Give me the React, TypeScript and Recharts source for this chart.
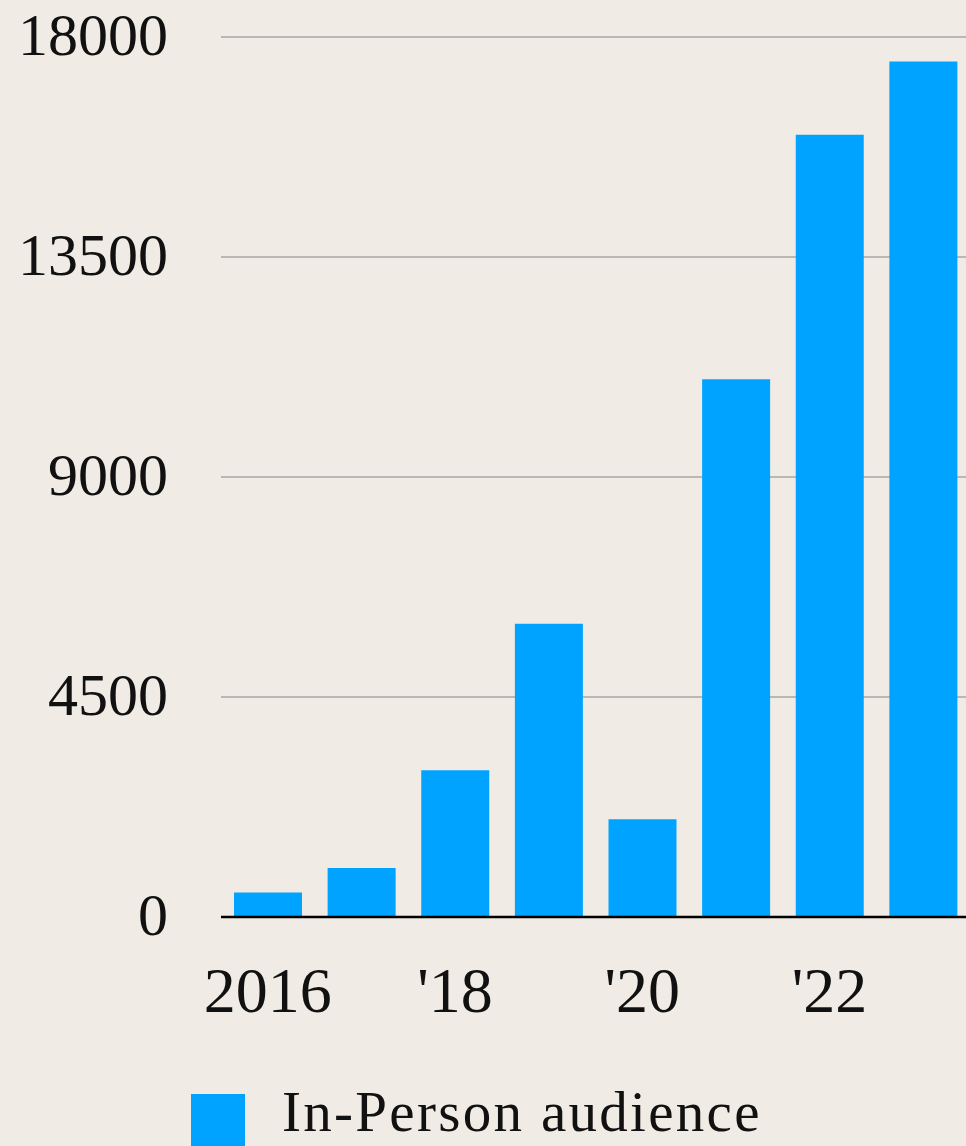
import { Bar, BarChart, CartesianGrid, Legend, XAxis, YAxis } from "recharts";

const years = ["2016", "2017", "2018", "2019", "2020", "2021", "2022", "2023"];
const inPerson = [500, 1000, 3000, 6000, 2000, 11000, 16000, 17500];
const yearLabels = ["2016", "", "'18", "", "'20", "", "'22", ""];
const yTicks = [0, 4500, 9000, 13500, 18000];

const data = years.map((year, i) => ({ year, inPerson: inPerson[i] }));

const FONT = '"Liberation Serif", "Times New Roman", serif';
const BG = "#F0ECE5";
const BLUE = "#00A3FF";

function YTick(props: any) {
  const { x, y, payload } = props;
  return (
    <text x={x} y={y + 18} textAnchor="end" fontFamily={FONT} fontSize={60} fill="#111">
      {payload.value}
    </text>
  );
}

function XTick(props: any) {
  const { x, y, payload, index } = props;
  const label = yearLabels[index] ?? payload.value;
  return (
    <text x={x} y={y + 95} textAnchor="middle" fontFamily={FONT} fontSize={64} fill="#111">
      {label}
    </text>
  );
}

function LegendBox() {
  return (
    <div style={{ position: "relative", height: 52, width: 966 }}>
      <div
        style={{
          position: "absolute",
          left: 191,
          top: 0,
          width: 54,
          height: 52,
          background: BLUE,
        }}
      />
      <span
        style={{
          position: "absolute",
          left: 282,
          top: -7,
          fontFamily: FONT,
          fontSize: 57,
          letterSpacing: 2.3,
          color: "#111",
          whiteSpace: "nowrap",
          lineHeight: "50px",
        }}
      >
        In-Person audience
      </span>
    </div>
  );
}

export default function App() {
  return (
    <div
      style={{
        position: "absolute",
        left: 0,
        top: 0,
        width: 966,
        height: 1146,
        overflow: "hidden",
        background: BG,
      }}
    >
      <BarChart
        width={980}
        height={1146}
        data={data}
        margin={{ top: 37, right: 10, bottom: 0, left: 0 }}
        barCategoryGap={13}
      >
        <CartesianGrid vertical={false} stroke="#BAB8B4" strokeWidth={2} />
        <XAxis
          dataKey="year"
          interval={0}
          height={177}
          tickSize={0}
          tickMargin={0}
          axisLine={{ stroke: "#000", strokeWidth: 2.5 }}
          tickLine={false}
          tick={<XTick />}
        />
        <YAxis
          domain={[0, 18000]}
          ticks={yTicks}
          width={221}
          tickSize={0}
          tickMargin={53}
          axisLine={false}
          tickLine={false}
          tick={<YTick />}
        />
        <Legend verticalAlign="bottom" align="left" content={<LegendBox />} />
        <Bar dataKey="inPerson" fill={BLUE} isAnimationActive={false} />
      </BarChart>
    </div>
  );
}
